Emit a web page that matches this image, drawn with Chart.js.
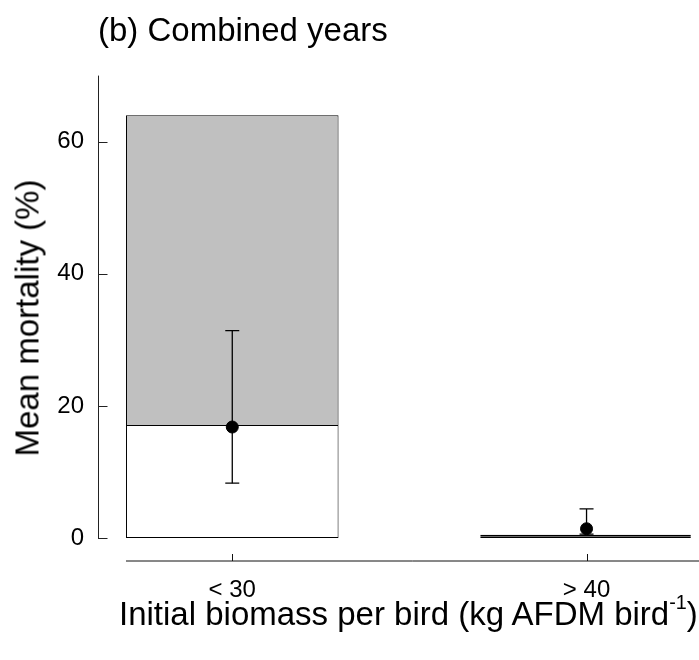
<!DOCTYPE html>
<html>
<head>
<meta charset="utf-8">
<script src="https://cdn.jsdelivr.net/npm/chart.js@4.4.1/dist/chart.umd.min.js"></script>
<style>
  body { margin: 0; background: #fff; }
  #wrap { position: relative; width: 699px; height: 660px; }
  .axTitle {
    position: absolute;
    font-family: 'Liberation Sans', Arial, sans-serif; font-size: 33px; line-height: 33px;
    color: #000; white-space: nowrap;
  }
  #xTitle { left: 119px; top: 597px; }
  #xTitle sup { font-size: 60%; line-height: 0; position: relative; top: -0.2em; }
  #yTitle { left: 27px; top: 318px; transform: translate(-50%, -50%) rotate(-90deg); }
</style>
</head>
<body>
<div id="wrap">
  <canvas id="mortChart" width="699" height="660"></canvas>
  <div id="yTitle" class="axTitle">Mean mortality (%)</div>
  <div id="xTitle" class="axTitle">Initial biomass per bird (kg AFDM bird<sup>-1</sup>)</div>
</div>
<script>
// categories and their positions on the x axis
const categories = ['< 30', '> 40'];
const xPos = [1, 2];

// bar parts (mortality %)
const lowerPart = [17.1, 0.25];  // white part of each bar
const barTop = [64, 0.5];        // top of the grey part

// mean with error range
const means = [16.8, 1.4];
const errLow = [8.3, 0.6];
const errHigh = [31.4, 4.4];

const yTicks = [0, 20, 40, 60];

Chart.defaults.font.family = "'Liberation Sans', Arial, sans-serif";
Chart.defaults.color = '#000';

// axis lines with inward ticks
const axisPlugin = {
    id: 'axisLines',
    afterDatasetsDraw(chart) {
        const ctx = chart.ctx;
        const x = chart.scales.x;
        const y = chart.scales.y;
        ctx.save();
        ctx.lineWidth = 1;

        // y axis
        ctx.strokeStyle = '#222';
        const ax = Math.round(x.getPixelForValue(x.min)) + 0.5;
        const yTop = y.getPixelForValue(70);
        const yBot = Math.round(y.getPixelForValue(0));
        ctx.beginPath();
        ctx.moveTo(ax, yTop);
        ctx.lineTo(ax, yBot + 1);
        yTicks.forEach(v => {
            const py = Math.round(y.getPixelForValue(v)) + 0.5;
            ctx.moveTo(ax, py);
            ctx.lineTo(ax + 9, py);
        });
        ctx.stroke();

        // x axis, offset below the plot (soft 2px line like the original)
        ctx.strokeStyle = '#111';
        const ay = yBot + 23;
        ctx.beginPath();
        ctx.moveTo(x.getPixelForValue(0.7), ay);
        ctx.lineTo(chart.width, ay);
        ctx.stroke();
        ctx.beginPath();
        xPos.forEach(v => {
            const px = Math.round(x.getPixelForValue(v)) + 0.5;
            ctx.moveTo(px, ay);
            ctx.lineTo(px, ay - 7);
        });
        ctx.stroke();
        ctx.restore();
    }
};

const errorSets = xPos.map((xv, i) => ({
    type: 'line',
    data: [{ x: xv, y: errLow[i] }, { x: xv, y: errHigh[i] }],
    borderColor: '#000',
    borderWidth: 1.3,
    pointStyle: 'line',
    pointRadius: 7,
    pointBorderWidth: 1.3,
    pointBorderColor: '#000',
    order: 2
}));

const chart = new Chart(document.getElementById('mortChart'), {
    type: 'bar',
    data: {
        datasets: [
            {
                type: 'scatter',
                data: xPos.map((xv, i) => ({ x: xv, y: means[i] })),
                backgroundColor: '#000',
                borderColor: '#000',
                pointRadius: 6,
                order: 1
            },
            ...errorSets,
            {
                data: xPos.map((xv, i) => ({ x: xv, y: [lowerPart[i], barTop[i]] })),
                backgroundColor: '#c0c0c0',
                borderColor: '#000',
                borderWidth: 1,
                // tall bar: let the white part's top edge be the only divider
                borderSkipped: c => (c.dataIndex === 0 ? 'bottom' : false),
                order: 3
            },
            {
                data: xPos.map((xv, i) => ({ x: xv, y: [0, lowerPart[i]] })),
                backgroundColor: '#fff',
                borderColor: '#000',
                borderWidth: 1,
                borderSkipped: false,
                order: 4
            }
        ]
    },
    options: {
        responsive: false,
        animation: false,
        events: [],
        layout: { padding: 0 },
        datasets: {
            bar: { grouped: false, categoryPercentage: 1, barPercentage: 0.6 }
        },
        plugins: {
            legend: { display: false },
            tooltip: { enabled: false },
            title: {
                display: true,
                text: '(b) Combined years',
                align: 'start',
                fullSize: false,
                color: '#000',
                font: { size: 33, weight: 'normal' },
                padding: { top: 12, bottom: 24 }
            }
        },
        scales: {
            x: {
                type: 'linear',
                offset: false,
                min: 0.621,
                max: 2.294,
                grid: { display: false },
                border: { display: false },
                afterBuildTicks: s => { s.ticks = xPos.map(v => ({ value: v })); },
                afterFit: s => { s.height = 122; },
                ticks: {
                    padding: 30,
                    font: { size: 24 },
                    maxRotation: 0,
                    callback: v => categories[xPos.indexOf(v)]
                }
            },
            y: {
                min: 0,
                max: 70,
                grid: { display: false },
                border: { display: false },
                afterBuildTicks: s => { s.ticks = yTicks.map(v => ({ value: v })); },
                afterFit: s => { s.width = 98; },
                ticks: { padding: 6, font: { size: 24 } }
            }
        }
    },
    plugins: [axisPlugin]
});
</script>
</body>
</html>
